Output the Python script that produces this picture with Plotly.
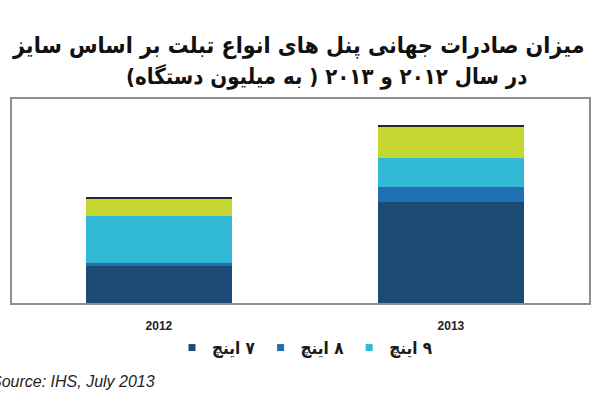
import plotly.graph_objects as go

# ---- data (million units) ----
years = ["2012", "2013"]
size_names = ["۷ اینچ", "۸ اینچ", "۹ اینچ", "۱۰ اینچ", "سایر"]
val_7 = [37, 101]
val_8 = [3, 15]
val_9 = [47, 29]
val_10 = [17, 31]
val_other = [2, 2]
series_values = [val_7, val_8, val_9, val_10, val_other]
in_legend = [True, True, True, False, False]

title_line1 = "میزان صادرات جهانی پنل های انواع تبلت بر اساس سایز"
title_line2 = "در سال ۲۰۱۲ و ۲۰۱۳ ( به میلیون دستگاه)"
source_text = "Source: IHS, July 2013"

colors = ["#1b4b74", "#2170b3", "#31b9d6", "#c6d731", "#23262e"]
RLM = "\u200f"
FA_FONT = "DejaVu Sans Condensed, DejaVu Sans"

fig = go.Figure()
for name, vals, col in zip(size_names, series_values, colors):
    fig.add_trace(go.Bar(x=years, y=vals, name=name, marker=dict(color=col, line=dict(width=0)),
                         width=0.5, showlegend=False))
# legend entries (small square markers)
for name, col, show in zip(size_names, colors, in_legend):
    if show:
        fig.add_trace(go.Scatter(x=[None], y=[None], mode="markers", name=RLM + name + RLM,
                                 marker=dict(symbol="square", size=7, color=col)))

W, H = 600, 400
L, R, T, B = 12, 11, 99, 97
pw, ph = W - L - R, H - T - B

def px(xp):
    return (xp - L) / pw

def py(yp):
    return (H - B - yp) / ph

fig.update_layout(
    width=W, height=H,
    margin=dict(l=L, r=R, t=T, b=B, autoexpand=False),
    barmode="stack",
    bargap=0,
    plot_bgcolor="white",
    paper_bgcolor="white",
    showlegend=True,
    legend=dict(orientation="h", x=px(305), xanchor="center", y=py(348), yanchor="middle",
                font=dict(family=FA_FONT, size=17, color="#1a1a1a", weight="bold"),
                itemwidth=30, traceorder="normal", bgcolor="rgba(0,0,0,0)"),
    xaxis=dict(type="category", range=[-0.503, 1.473], showline=True, mirror=True,
               linecolor="#8e8e8e", linewidth=1.5, showgrid=False, ticks="",
               ticklabelstandoff=11,
               tickfont=dict(family="Liberation Sans", size=12, color="#222", weight="bold")),
    yaxis=dict(range=[0, 204], showline=True, mirror=True, linecolor="#8e8e8e", linewidth=1.5,
               showgrid=False, showticklabels=False, ticks="", zeroline=False),
    annotations=[
        dict(text=RLM + title_line1 + RLM, x=px(298), y=py(45), xref="paper", yref="paper",
             xanchor="center", yanchor="middle", showarrow=False,
             font=dict(family=FA_FONT, size=23, color="#111", weight="bold")),
        dict(text=RLM + title_line2 + RLM, x=px(327), y=py(76), xref="paper", yref="paper",
             xanchor="center", yanchor="middle", showarrow=False,
             font=dict(family=FA_FONT, size=22, color="#111", weight="bold")),
        dict(text="<i>" + source_text + "</i>", x=px(157), y=py(381), xref="paper", yref="paper",
             xanchor="right", yanchor="middle", showarrow=False,
             font=dict(family="Liberation Sans", size=16, color="#222")),
    ],
)

fig.write_html("out.html", config={"displayModeBar": False},
               post_script="document.body.style.margin='0';")
